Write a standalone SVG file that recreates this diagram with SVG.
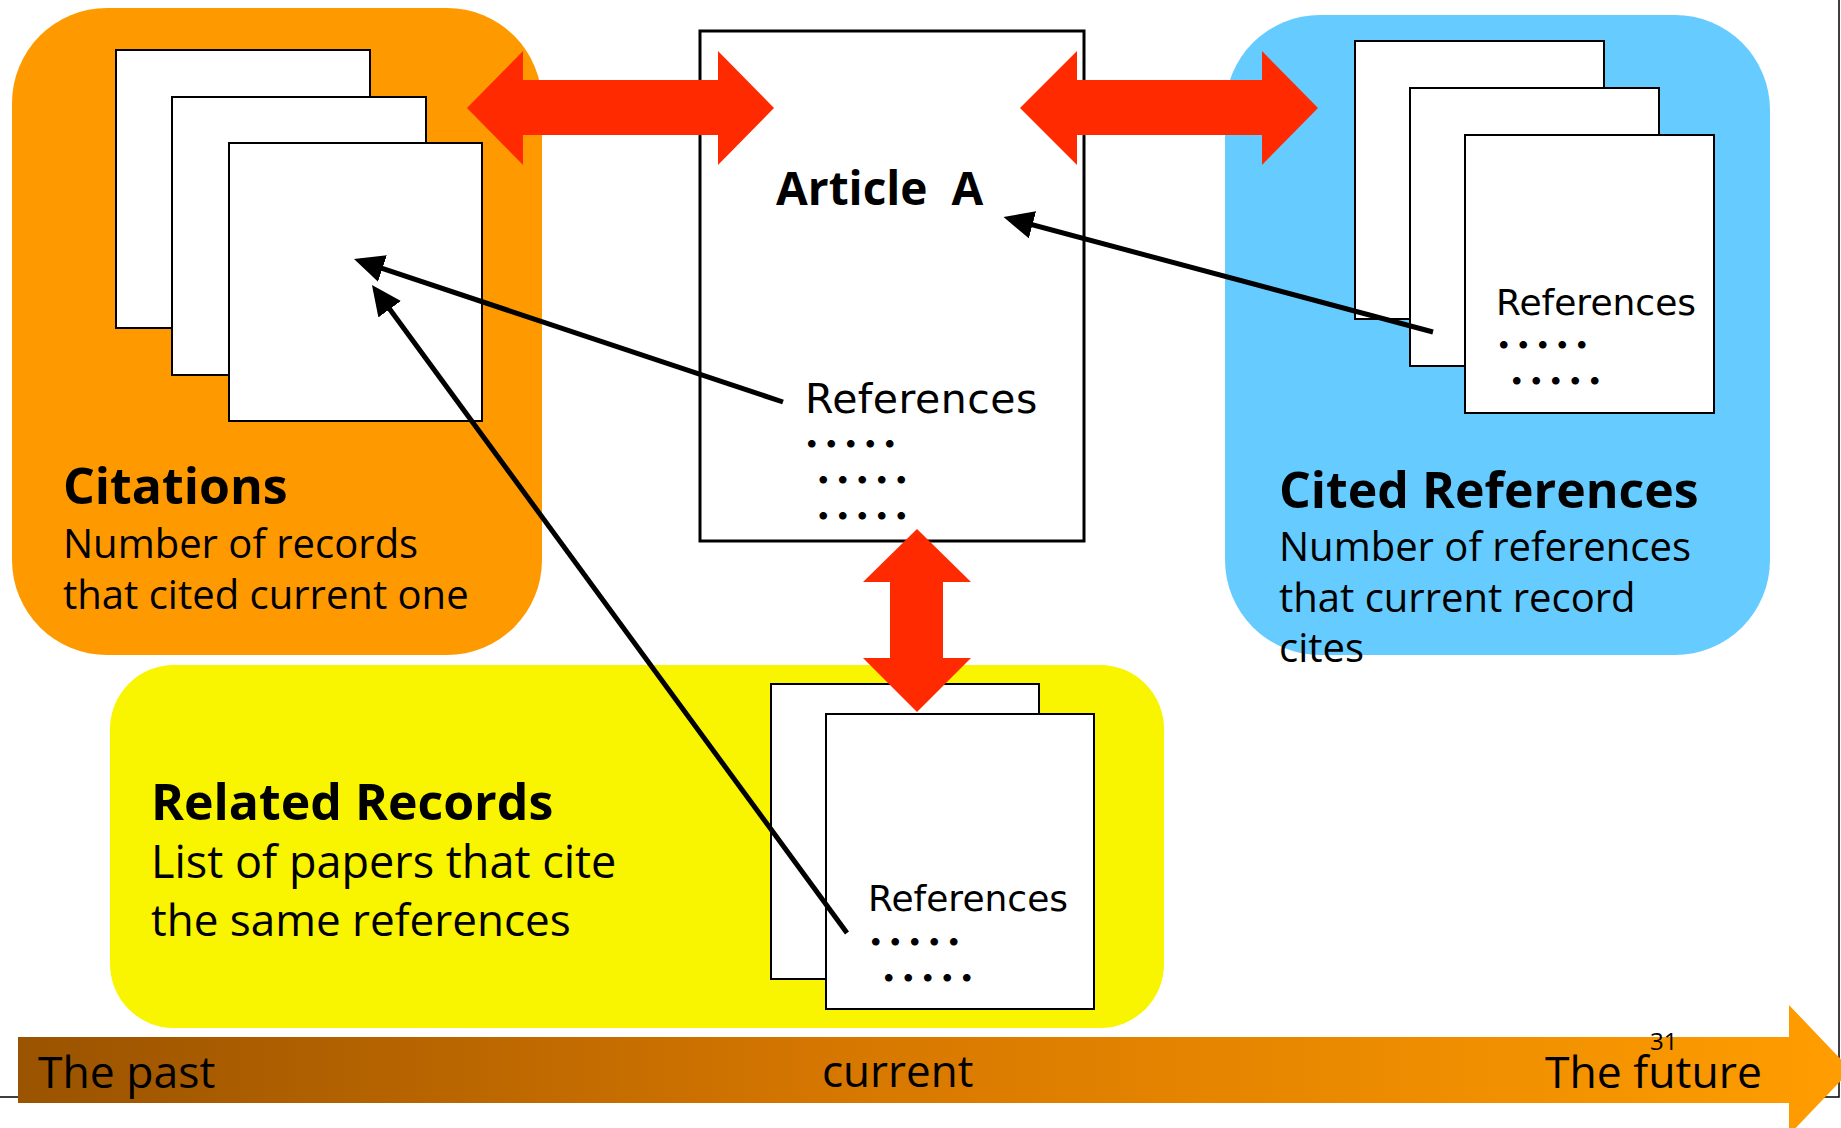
<svg xmlns="http://www.w3.org/2000/svg" width="1841" height="1128" viewBox="0 0 1841 1128">
<defs>
<linearGradient id="tl" x1="18" y1="0" x2="1851" y2="0" gradientUnits="userSpaceOnUse">
<stop offset="0" stop-color="#9A5300"/>
<stop offset="0.45" stop-color="#D67700"/>
<stop offset="1" stop-color="#FF9D00"/>
</linearGradient>
<marker id="ah" markerUnits="userSpaceOnUse" markerWidth="30" markerHeight="28" viewBox="0 0 30 28" refX="24" refY="14" orient="auto">
<path d="M0,0 L30,14 L0,28 z" fill="#000"/>
</marker>
<style>
.paper{fill:#fff;stroke:#000;stroke-width:2}
.t{font-family:"Open Sans","Noto Sans",sans-serif;fill:#000}
.b{font-weight:bold}
.body{font-size:40px}
.title{font-size:50px}
.ref{font-family:"DejaVu Sans","Noto Sans",sans-serif;font-size:36px;fill:#000}
.ref-lg{font-size:41px;letter-spacing:0.5px}
.dots{font-family:"Noto Sans CJK JP",sans-serif;font-size:39px;font-weight:bold;fill:#000}
.red{fill:#FF2A00}
.conn{stroke:#000;stroke-width:5;fill:none;marker-end:url(#ah)}
</style>
</defs>
<rect width="1841" height="1128" fill="#fff"/>
<path d="M0,1097 H1839 V0" fill="none" stroke="#000" stroke-width="1.5"/>

<g id="citations">
<rect x="12" y="8" width="530" height="647" rx="95" ry="95" fill="#FF9900"/>
<rect class="paper" x="116" y="50" width="254" height="278"/>
<rect class="paper" x="172" y="97" width="254" height="278"/>
<rect class="paper" x="229" y="143" width="253" height="278"/>
<text class="t b title" x="63" y="504">Citations</text>
<text class="t body" x="63" y="558">Number of records</text>
<text class="t body" x="63" y="609">that cited current one</text>
</g>

<g id="article">
<rect x="700" y="31" width="384" height="510" fill="#fff" stroke="#000" stroke-width="3"/>
<text class="t b" x="776" y="205" font-size="46" xml:space="preserve">Article  A</text>
<text class="ref ref-lg" x="805" y="413">References</text>
<text class="dots" x="802" y="458">･････</text>
<text class="dots" x="813.5" y="494">･････</text>
<text class="dots" x="813.5" y="530">･････</text>
</g>

<g id="cited-references">
<rect x="1225" y="15" width="545" height="640" rx="95" ry="95" fill="#66CCFF"/>
<rect class="paper" x="1355" y="41" width="249" height="278"/>
<rect class="paper" x="1410" y="88" width="249" height="278"/>
<rect class="paper" x="1465" y="135" width="249" height="278"/>
<text class="ref" x="1496" y="315">References</text>
<text class="dots" x="1494" y="359">･････</text>
<text class="dots" x="1507" y="395">･････</text>
<text class="t b title" x="1279" y="508">Cited References</text>
<text class="t body" x="1279" y="561">Number of references</text>
<text class="t body" x="1279" y="612">that current record</text>
<text class="t body" x="1279" y="662">cites</text>
</g>

<g id="related-records">
<rect x="110" y="665" width="1054" height="363" rx="64" ry="64" fill="#F9F400"/>
<rect class="paper" x="771" y="684" width="268" height="295"/>
<rect class="paper" x="826" y="714" width="268" height="295"/>
<text class="ref" x="868" y="911">References</text>
<text class="dots" x="866" y="956">･････</text>
<text class="dots" x="879" y="992">･････</text>
<text class="t b title" x="151" y="820">Related Records</text>
<text class="t" x="151" y="878" font-size="45">List of papers that cite</text>
<text class="t" x="151" y="936" font-size="44">the same references</text>
</g>

<g id="timeline">
<polygon points="18,1037 1789,1037 1789,1005 1851,1070 1789,1135 1789,1103 18,1103" fill="url(#tl)"/>
<text class="t" x="38" y="1088" font-size="44.5">The past</text>
<text class="t" x="822" y="1087" font-size="44">current</text>
<text class="t" x="1545" y="1088" font-size="44.5">The future</text>
<text class="t" x="1650" y="1050" font-size="24">31</text>
</g>

<g id="connectors">
<polygon class="red" points="467,108 523,51 523,80 718,80 718,51 774,108 718,165 718,135 523,135 523,165"/>
<polygon class="red" points="1020,108 1077,51 1077,80 1262,80 1262,51 1318,108 1262,165 1262,135 1077,135 1077,165"/>
<polygon class="red" points="917,529 971,582 943,582 943,658 971,658 917,712 863,658 890,658 890,582 863,582"/>
<line class="conn" x1="783" y1="402" x2="359.7" y2="260.9"/>
<line class="conn" x1="847" y1="933" x2="375.5" y2="289.8"/>
<line class="conn" x1="1433" y1="332" x2="1009.3" y2="218.6"/>
</g>
</svg>
